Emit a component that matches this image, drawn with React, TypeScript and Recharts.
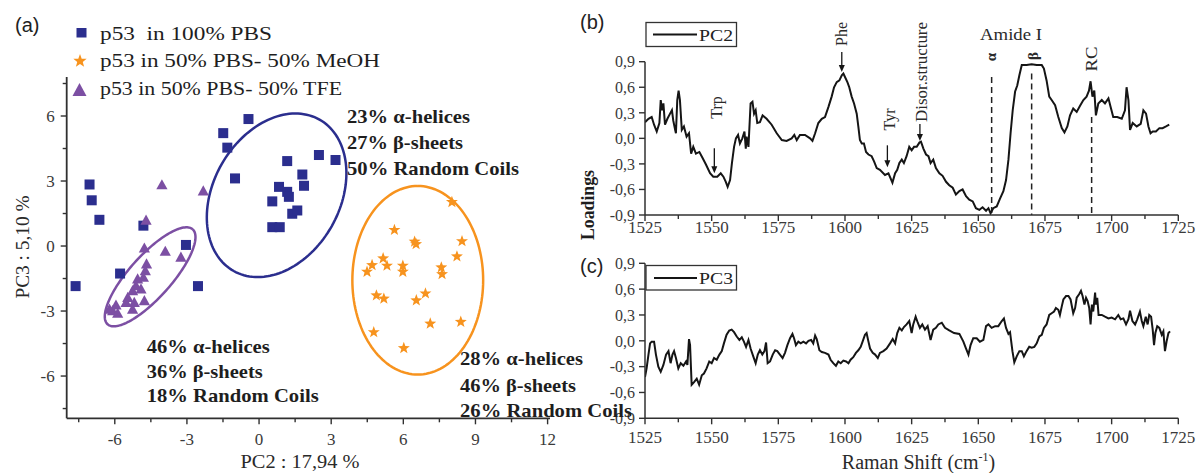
import React from 'react';
import { ScatterChart, Scatter, XAxis, YAxis, LineChart, Line, ReferenceLine, ReferenceDot } from 'recharts';

const SERIF = "'Liberation Serif', 'Times New Roman', serif";
const SANS = "'Liberation Sans', Arial, sans-serif";
const INK = '#151515';
const AXIS_C = '#303030';
const TICK_C = '#3a3a3a';
const BLUE = '#2b2e8e';
const ORANGE = '#f7931e';
const PURPLE = '#7c4fa3';

// ---------- Panel (a): PCA scores (PC2, PC3) ----------
const pbsPC2 = [-7.63, -7.05, -6.96, -6.64, -5.78, -4.81, -3.04, -2.54, -1.49, -1.32, -0.44, -1.0, 0.55, 0.83, 1.17, 1.24, 1.17, 1.8, 1.87, 1.38, 1.59, 0.55, 0.86, 2.49, 3.18];
const pbsPC3 = [-1.85, 2.84, 2.11, 1.21, -1.27, 0.94, 0.05, -1.85, 5.21, 4.54, 5.86, 3.12, 2.06, 2.73, 2.5, 2.27, 3.92, 3.3, 2.78, 1.49, 1.64, 0.87, 0.87, 4.2, 3.97];
const meohPC2 = [8.02, 5.63, 6.47, 6.53, 8.44, 8.23, 4.7, 5.16, 5.32, 4.49, 5.98, 5.98, 7.58, 7.61, 4.88, 5.19, 6.92, 6.54, 7.12, 8.39, 4.77, 6.02];
const meohPC3 = [2.03, 0.74, 0.2, 0.09, 0.22, -0.48, -0.88, -0.57, -0.91, -1.19, -0.91, -1.19, -0.99, -1.3, -2.28, -2.43, -2.19, -2.51, -3.58, -3.5, -3.98, -4.71];
const tfePC2 = [-4.04, -2.32, -4.7, -4.77, -3.9, -3.25, -4.68, -4.73, -4.81, -5.05, -5.12, -4.91, -5.26, -5.46, -4.77, -5.19, -5.53, -5.26, -5.95, -6.09, -5.88, -6.22];
const tfePC3 = [2.81, 2.53, 1.18, -0.11, -0.26, -0.53, -0.84, -1.15, -1.46, -1.53, -1.85, -2.0, -2.08, -2.39, -2.54, -2.62, -2.62, -2.93, -2.74, -3.0, -3.12, -2.93];

// confidence ellipses: centre and two conjugate semi-axes (data units)
const ellipseCentre = { pbs: [0.73, 2.34], meoh: [6.6, -1.58], tfe: [-4.53, -1.42] };
const ellipseAxisA = { pbs: [0.4, 3.74], meoh: [0, 4.35], tfe: [1.77, 2.19] };
const ellipseAxisB = { pbs: [2.875, 0.51], meoh: [2.72, 0], tfe: [0.65, -0.65] };

const legendLabels = ['p53  in 100% PBS', 'p53 in 50% PBS- 50% MeOH', 'p53 in 50% PBS- 50% TFE'];
const pbsStructure = ['23% α-helices', '27% β-sheets', '50% Random Coils'];
const tfeStructure = ['46% α-helices', '36% β-sheets', '18% Random Coils'];
const meohStructure = ['28% α-helices', '46% β-sheets', '26% Random Coils'];

const aXMajor = [-6, -3, 0, 3, 6, 9, 12];
const aXTicks = [-7.5, -6, -4.5, -3, -1.5, 0, 1.5, 3, 4.5, 6, 7.5, 9, 10.5, 12];
const aYMajor = [-6, -3, 0, 3, 6];
const aYTicks = [-7.5, -6, -4.5, -3, -1.5, 0, 1.5, 3, 4.5, 6, 7.5];

// ---------- Panels (b), (c): loadings vs Raman shift ----------
const ramanMajor = [1525, 1550, 1575, 1600, 1625, 1650, 1675, 1700, 1725];
const ramanTicks = [1525, 1537.5, 1550, 1562.5, 1575, 1587.5, 1600, 1612.5, 1625, 1637.5, 1650, 1662.5, 1675, 1687.5, 1700, 1712.5, 1725];
const loadTicks = [-0.9, -0.6, -0.3, 0, 0.3, 0.6, 0.9];

const pc2 = [
  [1525, 0.19], [1526.3, 0.23], [1527.5, 0.25], [1528.4, 0.16], [1529.4, 0.08], [1530.4, 0.18], [1530.9, 0.45], [1531.4, 0.33], [1531.9, 0.41], [1532.5, 0.16],
  [1533.4, 0.23], [1534.4, 0.29], [1535.1, 0.33], [1535.6, 0.21], [1536.3, 0.1], [1536.6, 0.06], [1537.1, 0.45], [1537.6, 0.56], [1538.1, 0.45], [1538.8, 0.1],
  [1539.6, 0.14], [1540.6, 0.02], [1541.5, 0.06], [1542.3, -0.18], [1543.1, -0.1], [1544.1, -0.18], [1545.4, -0.16], [1546.6, -0.23], [1547.9, -0.31], [1549.4, -0.41],
  [1550.6, -0.45], [1552.1, -0.45], [1553.4, -0.41], [1554.4, -0.45], [1555.3, -0.51], [1556, -0.57], [1556.9, -0.49], [1557.6, -0.29], [1558.4, -0.1], [1559.1, 0.0],
  [1559.9, 0.04], [1560.6, -0.06], [1561.5, 0.0], [1562.3, 0.08], [1562.8, -0.12], [1563.1, 0.02], [1563.8, -0.1], [1564.6, 0.41], [1565.3, 0.43], [1565.9, 0.29],
  [1566.5, 0.33], [1567.1, 0.18], [1568.1, 0.19], [1569.1, 0.27], [1570.6, 0.23], [1572.5, 0.16], [1574.4, 0.06], [1576.3, -0.02], [1578.1, -0.03], [1580, 0.0],
  [1581, 0.04], [1581.9, -0.02], [1583.1, 0.04], [1585, 0.04], [1586.9, 0.0], [1587.8, -0.03], [1588.8, 0.06], [1590, 0.18], [1591.3, 0.23], [1592.5, 0.25],
  [1593.8, 0.37], [1595, 0.49], [1595.9, 0.6], [1596.9, 0.66], [1597.9, 0.68], [1598.8, 0.74], [1599.4, 0.76], [1600, 0.72], [1600.9, 0.66], [1601.6, 0.6],
  [1602.5, 0.49], [1603.4, 0.41], [1604.4, 0.29], [1605, 0.14], [1605.6, -0.02], [1606.3, -0.06], [1607.1, -0.06], [1607.9, -0.16], [1608.8, -0.19], [1610, -0.21],
  [1610.9, -0.27], [1611.9, -0.35], [1613.1, -0.37], [1615, -0.43], [1616.3, -0.41], [1617.8, -0.52], [1618.8, -0.41], [1619.6, -0.37], [1620.4, -0.29], [1621.3, -0.25],
  [1622.1, -0.29], [1623.1, -0.21], [1624.1, -0.1], [1625, -0.14], [1625.9, -0.1], [1626.9, -0.1], [1627.9, -0.05], [1628.5, -0.04], [1629.4, -0.12], [1630.4, -0.19],
  [1631.3, -0.21], [1632.1, -0.29], [1633.1, -0.25], [1634.1, -0.35], [1635.4, -0.41], [1636.6, -0.44], [1637.9, -0.51], [1639.1, -0.55], [1640.4, -0.58], [1641.6, -0.66],
  [1642.9, -0.62], [1644.1, -0.6], [1645.4, -0.68], [1646.6, -0.72], [1647.9, -0.74], [1649.1, -0.82], [1650.4, -0.84], [1651.6, -0.81], [1652.9, -0.85], [1653.8, -0.82],
  [1654.6, -0.88], [1655.6, -0.82], [1656.9, -0.8], [1658.1, -0.71], [1659.4, -0.62], [1660.4, -0.49], [1661.3, -0.25], [1662.1, 0.06], [1662.9, 0.33], [1663.8, 0.55],
  [1664.6, 0.62], [1665.4, 0.74], [1666.3, 0.86], [1668.1, 0.86], [1670, 0.87], [1671.9, 0.86], [1673.8, 0.86], [1674.6, 0.82], [1675.6, 0.68], [1676.6, 0.49],
  [1677.5, 0.45], [1678.8, 0.39], [1680, 0.25], [1681.3, 0.12], [1682.3, 0.07], [1683.4, 0.14], [1684.4, 0.27], [1685.6, 0.35], [1686.9, 0.31], [1688.1, 0.38],
  [1689.4, 0.45], [1690.6, 0.49], [1691.5, 0.56], [1692.1, 0.67], [1692.8, 0.49], [1693.5, 0.56], [1694.1, 0.27], [1695, 0.41], [1696.3, 0.45], [1697.5, 0.41],
  [1698.8, 0.47], [1699.6, 0.37], [1700.6, 0.25], [1702.1, 0.25], [1703.8, 0.23], [1705, 0.33], [1705.6, 0.6], [1706.3, 0.45], [1706.9, 0.1], [1707.9, 0.18],
  [1709.4, 0.14], [1710.9, 0.17], [1711.9, 0.33], [1712.9, 0.29], [1713.8, 0.14], [1714.6, 0.06], [1715.4, 0.08], [1716.6, 0.08], [1717.9, 0.12], [1719.1, 0.12],
  [1720.4, 0.14], [1721.6, 0.16],
];

const pc3 = [
  [1525, -0.42], [1525.6, -0.32], [1526.3, -0.16], [1526.9, -0.03], [1527.5, -0.01], [1528.4, -0.01], [1529.1, -0.16], [1530, -0.3], [1530.9, -0.36], [1531.9, -0.28],
  [1532.9, -0.16], [1533.8, -0.12], [1534.6, -0.26], [1535.3, -0.16], [1535.9, -0.12], [1536.6, -0.2], [1537.5, -0.32], [1538.4, -0.26], [1539.4, -0.29], [1540.4, -0.24],
  [1540.9, -0.28], [1541.5, 0.02], [1541.9, -0.05], [1542.5, -0.51], [1543.4, -0.48], [1544.4, -0.44], [1545.3, -0.51], [1546.3, -0.4], [1547.1, -0.38], [1548.1, -0.32],
  [1549.1, -0.24], [1550, -0.26], [1550.9, -0.2], [1551.9, -0.22], [1552.9, -0.16], [1553.8, -0.12], [1554.6, -0.03], [1555.6, 0.07], [1556.6, 0.12], [1557.5, 0.13],
  [1558.4, 0.1], [1559.4, 0.05], [1560.4, 0.01], [1561.3, 0.04], [1562.1, -0.01], [1562.9, -0.07], [1563.8, 0.01], [1564.6, -0.09], [1565.6, -0.18], [1566.5, -0.26],
  [1567.3, -0.16], [1568.1, -0.11], [1569, -0.16], [1569.8, -0.12], [1570.4, -0.02], [1571, -0.26], [1571.9, -0.24], [1572.9, -0.16], [1573.8, -0.11], [1574.6, -0.12],
  [1575.6, -0.16], [1576.6, -0.2], [1577.5, -0.14], [1578.4, -0.05], [1579.4, 0.03], [1580.3, 0.08], [1580.9, 0.03], [1581.6, -0.05], [1582.5, -0.01], [1583.4, -0.03],
  [1584.4, -0.01], [1585.4, -0.03], [1586.3, 0.0], [1587.3, 0.01], [1588.1, -0.03], [1588.8, 0.06], [1589.4, 0.02], [1590.4, -0.11], [1591.3, -0.13], [1592.5, -0.14],
  [1593.8, -0.16], [1594.6, -0.22], [1595.6, -0.26], [1596.6, -0.29], [1597.5, -0.24], [1598.4, -0.26], [1599.4, -0.23], [1600.4, -0.24], [1601.3, -0.26], [1602.1, -0.22],
  [1603.1, -0.19], [1604.1, -0.14], [1605, -0.11], [1605.9, -0.07], [1606.6, -0.01], [1607.5, 0.07], [1608.1, 0.09], [1608.8, -0.01], [1609.4, -0.09], [1610.4, -0.14],
  [1611.3, -0.16], [1612.3, -0.2], [1613.1, -0.14], [1614.4, -0.12], [1615.6, -0.09], [1616.9, -0.03], [1617.9, 0.02], [1618.8, -0.03], [1619.6, 0.09], [1620.4, 0.15],
  [1621.3, 0.12], [1622.1, 0.16], [1623.1, 0.19], [1624.1, 0.23], [1625, 0.09], [1625.6, 0.19], [1626.5, 0.28], [1627.3, 0.21], [1628.1, 0.15], [1629, 0.19],
  [1630, 0.13], [1631, 0.17], [1632.1, 0.01], [1633.1, 0.13], [1634.1, 0.15], [1635, 0.19], [1636.3, 0.21], [1637.5, 0.15], [1639.1, 0.12], [1640.9, 0.09],
  [1642.9, 0.08], [1644.4, -0.01], [1645.4, -0.09], [1646.3, -0.16], [1647.1, -0.05], [1648.1, 0.03], [1649.4, 0.03], [1650.6, -0.01], [1651.9, 0.01], [1652.9, 0.17],
  [1653.8, 0.19], [1655, 0.15], [1656.3, 0.17], [1657.5, 0.17], [1658.8, 0.23], [1659.6, 0.26], [1660.4, 0.15], [1661.3, 0.08], [1661.9, 0.1], [1662.8, -0.12],
  [1663.5, -0.25], [1664.4, -0.18], [1665.4, -0.12], [1666.3, -0.12], [1667.1, -0.18], [1668.1, -0.12], [1669.1, -0.07], [1670, -0.08], [1671, -0.07], [1671.9, -0.03],
  [1672.9, 0.05], [1673.8, 0.07], [1674.6, 0.15], [1675.6, 0.19], [1676.6, 0.3], [1677.5, 0.32], [1678.4, 0.34], [1679.1, 0.38], [1680, 0.36], [1680.6, 0.3],
  [1681.3, 0.4], [1681.9, 0.48], [1682.9, 0.52], [1683.8, 0.52], [1684.6, 0.48], [1685.6, 0.32], [1686.3, 0.38], [1686.9, 0.5], [1687.8, 0.54], [1688.5, 0.58],
  [1689.1, 0.52], [1689.8, 0.42], [1690.4, 0.5], [1691, 0.46], [1691.6, 0.38], [1692.1, 0.19], [1692.6, 0.42], [1693.1, 0.34], [1693.8, 0.56], [1694.1, 0.42],
  [1694.6, 0.5], [1695.1, 0.3], [1696.3, 0.3], [1697.5, 0.28], [1698.8, 0.26], [1700, 0.27], [1701.3, 0.25], [1702.5, 0.3], [1703.4, 0.25], [1704.4, 0.26],
  [1705.4, 0.19], [1706.3, 0.25], [1706.9, 0.35], [1707.8, 0.23], [1708.8, 0.19], [1709.6, 0.25], [1710.6, 0.34], [1711.3, 0.23], [1711.9, 0.17], [1712.8, 0.28],
  [1713.5, 0.19], [1714.1, 0.3], [1714.8, 0.28], [1715.4, 0.13], [1715.9, -0.05], [1716.4, 0.09], [1717.1, 0.17], [1717.9, 0.15], [1718.8, 0.07], [1719.4, 0.11],
  [1720, -0.12], [1720.6, -0.01], [1721.3, 0.09], [1721.9, 0.11],
];

// band markers (dashed) in Amide I region: shift and upper end of the dashed line
const bandShift = [1655, 1670, 1692.5];
const bandTop = [0.72, 0.76, 0.25];
// arrows: Trp, Phe, Tyr, Disor. structure (tip positions)
const arrowShift = [1551, 1598.8, 1615.9, 1628.1];
const arrowTip = [-0.41, 0.78, -0.34, -0.03];

// ---------- helpers ----------
const toPoints = (xs: number[], ys: number[]) => xs.map((x, i) => ({ x, y: ys[i] }));
const toXY = (pairs: number[][]) => pairs.map(([x, y]) => ({ x, y }));

const ellipseOutline = (key: 'pbs' | 'meoh' | 'tfe') => {
  const [cx, cy] = ellipseCentre[key];
  const [ax, ay] = ellipseAxisA[key];
  const [bx, by] = ellipseAxisB[key];
  const pts = [];
  for (let i = 0; i <= 144; i++) {
    const t = (i / 144) * Math.PI * 2;
    pts.push({ x: cx + Math.cos(t) * ax + Math.sin(t) * bx, y: cy + Math.cos(t) * ay + Math.sin(t) * by });
  }
  return pts;
};

const isIn = (arr: number[], v: number) => arr.some((m) => Math.abs(m - v) < 1e-6);

const makeXTick = (majors: number[], fmt: (v: number) => string, labelDy: number, fontSize: number) => (p: any) => {
  const v = Number(p.payload.value);
  const major = isIn(majors, v);
  return (
    <g>
      <line x1={p.x} x2={p.x} y1={p.y} y2={p.y + (major ? 6 : 4)} stroke={AXIS_C} strokeWidth={1.4} />
      {major && (
        <text x={p.x} y={p.y + labelDy} textAnchor="middle" fontFamily={SERIF} fontSize={fontSize} fill={TICK_C}>
          {fmt(v)}
        </text>
      )}
    </g>
  );
};

const makeYTick = (majors: number[], fmt: (v: number) => string, gap: number, fontSize: number) => (p: any) => {
  const v = Number(p.payload.value);
  const major = isIn(majors, v);
  return (
    <g>
      <line x1={p.x - (major ? 6 : 4)} x2={p.x} y1={p.y} y2={p.y} stroke={AXIS_C} strokeWidth={1.4} />
      {major && (
        <text x={p.x - gap} y={p.y} dy="0.36em" textAnchor="end" fontFamily={SERIF} fontSize={fontSize} fill={TICK_C}>
          {fmt(v)}
        </text>
      )}
    </g>
  );
};

const fmtA = (v: number) => String(v);
const fmtL = (v: number) => v.toFixed(1).replace('.', ',');

const SquareMark = (p: any) => <rect x={p.cx - 5} y={p.cy - 5} width={10} height={10} fill={BLUE} />;
const TriMark = (p: any) => (
  <polygon points={`${p.cx},${p.cy - 6} ${p.cx + 5.6},${p.cy + 4.2} ${p.cx - 5.6},${p.cy + 4.2}`} fill={PURPLE} />
);
const starPath = (cx: number, cy: number, R: number, r: number) => {
  const pts = [];
  for (let i = 0; i < 10; i++) {
    const rad = i % 2 === 0 ? R : r;
    const a = -Math.PI / 2 + (i * Math.PI) / 5;
    pts.push(`${(cx + rad * Math.cos(a)).toFixed(2)},${(cy + rad * Math.sin(a)).toFixed(2)}`);
  }
  return pts.join(' ');
};
const StarMark = (p: any) => <polygon points={starPath(p.cx, p.cy, 6.3, 2.6)} fill={ORANGE} />;
const NoMark = () => <g />;

const arrowLens = [25, 20, 22, 17];
const makeArrow = (len: number) => (p: any) => {
  const { cx, cy } = p;
  return (
    <g>
      <line x1={cx} x2={cx} y1={cy - len} y2={cy - 5} stroke={INK} strokeWidth={1.3} />
      <polygon points={`${cx - 3},${cy - 7} ${cx + 3},${cy - 7} ${cx},${cy}`} fill={INK} />
    </g>
  );
};

const RotText = ({ x, y, children, size = 16, len, bold = false, color = '#2a2a2a' }: any) => (
  <text
    transform={`translate(${x},${y}) rotate(-90)`}
    textAnchor="middle"
    dy="0.35em"
    fontFamily={SERIF}
    fontSize={size}
    fontWeight={bold ? 'bold' : 'normal'}
    fill={color}
    textLength={len}
    lengthAdjust={len ? 'spacingAndGlyphs' : undefined}
  >
    {children}
  </text>
);

const Txt = ({ x, y, children, size = 19, len, bold = false, anchor = 'start', color = '#1e1e1e', family = SERIF }: any) => (
  <text
    x={x}
    y={y}
    textAnchor={anchor}
    fontFamily={family}
    fontSize={size}
    fontWeight={bold ? 'bold' : 'normal'}
    fill={color}
    textLength={len}
    lengthAdjust={len ? 'spacingAndGlyphs' : undefined}
    style={{ whiteSpace: 'pre' }}
  >
    {children}
  </text>
);

const lineAxisProps = { stroke: AXIS_C, strokeWidth: 1.5 };

export default function App() {
  const pbs = toPoints(pbsPC2, pbsPC3);
  const meoh = toPoints(meohPC2, meohPC3);
  const tfe = toPoints(tfePC2, tfePC3);
  const pc2Data = toXY(pc2);
  const pc3Data = toXY(pc3);

  const ellipses: { key: 'pbs' | 'meoh' | 'tfe'; color: string }[] = [
    { key: 'pbs', color: BLUE },
    { key: 'meoh', color: ORANGE },
    { key: 'tfe', color: PURPLE },
  ];

  return (
    <div style={{ position: 'absolute', left: 0, top: 0, width: 1198, height: 473, background: '#fff', overflow: 'hidden' }}>
      {/* Panel (a) */}
      <div style={{ position: 'absolute', left: 0, top: 0 }}>
        <ScatterChart width={580} height={473} margin={{ top: 77, right: 30, bottom: 24.7, left: 26.7 }}>
          <XAxis
            type="number"
            dataKey="x"
            domain={[-8, 12.1]}
            ticks={aXTicks}
            interval={0}
            allowDataOverflow
            height={30}
            tickSize={0}
            tickMargin={0}
            tickLine={false}
            axisLine={{ stroke: AXIS_C, strokeWidth: 1.8 }}
            tick={makeXTick(aXMajor, fmtA, 27, 17)}
          />
          <YAxis
            type="number"
            dataKey="y"
            domain={[-7.95, 7.8]}
            ticks={aYTicks}
            interval={0}
            allowDataOverflow
            width={40}
            tickSize={0}
            tickMargin={0}
            tickLine={false}
            axisLine={{ stroke: AXIS_C, strokeWidth: 1.8 }}
            tick={makeYTick(aYMajor, fmtA, 12, 17)}
          />
          {ellipses.map((e) => (
            <Scatter
              key={e.key}
              data={ellipseOutline(e.key)}
              line={{ stroke: e.color, strokeWidth: 2.5 }}
              shape={NoMark}
              isAnimationActive={false}
            />
          ))}
          <Scatter data={pbs} shape={SquareMark} isAnimationActive={false} />
          <Scatter data={meoh} shape={StarMark} isAnimationActive={false} />
          <Scatter data={tfe} shape={TriMark} isAnimationActive={false} />
        </ScatterChart>
      </div>

      {/* Panel (b) */}
      <div style={{ position: 'absolute', left: 580, top: 0 }}>
        <LineChart width={618} height={250} margin={{ top: 61.7, right: 19.7, bottom: 10, left: 25 }}>
          <XAxis
            type="number"
            dataKey="x"
            domain={[1525, 1725]}
            ticks={ramanTicks}
            interval={0}
            allowDataOverflow
            height={25}
            tickSize={0}
            tickMargin={0}
            tickLine={false}
            axisLine={lineAxisProps}
            tick={makeXTick(ramanMajor, String, 18, 17)}
          />
          <YAxis
            type="number"
            domain={[-0.9, 0.9]}
            ticks={loadTicks}
            interval={0}
            allowDataOverflow
            width={40}
            tickSize={0}
            tickMargin={0}
            tickLine={false}
            axisLine={lineAxisProps}
            tick={makeYTick(loadTicks, fmtL, 10, 16)}
          />
          {bandShift.map((s, i) => (
            <ReferenceLine
              key={`band-${s}`}
              segment={[{ x: s, y: bandTop[i] }, { x: s, y: -0.9 }]}
              stroke="#222"
              strokeWidth={1.5}
              strokeDasharray="6 4"
            />
          ))}
          <Line data={pc2Data} dataKey="y" type="linear" stroke={INK} strokeWidth={2} dot={false} isAnimationActive={false} />
          {arrowShift.map((s, i) => (
            <ReferenceDot key={`arrow-${s}`} x={s} y={arrowTip[i]} r={0} ifOverflow="visible" shape={makeArrow(arrowLens[i])} />
          ))}
        </LineChart>
      </div>

      {/* Panel (c) */}
      <div style={{ position: 'absolute', left: 580, top: 245 }}>
        <LineChart width={618} height={228} margin={{ top: 18.3, right: 19.7, bottom: 24.7, left: 25 }}>
          <XAxis
            type="number"
            dataKey="x"
            domain={[1525, 1725]}
            ticks={ramanTicks}
            interval={0}
            allowDataOverflow
            height={30}
            tickSize={0}
            tickMargin={0}
            tickLine={false}
            axisLine={lineAxisProps}
            tick={makeXTick(ramanMajor, String, 25, 17)}
          />
          <YAxis
            type="number"
            domain={[-0.9, 0.9]}
            ticks={loadTicks}
            interval={0}
            allowDataOverflow
            width={40}
            tickSize={0}
            tickMargin={0}
            tickLine={false}
            axisLine={lineAxisProps}
            tick={makeYTick(loadTicks, fmtL, 10, 16)}
          />
          <Line data={pc3Data} dataKey="y" type="linear" stroke={INK} strokeWidth={2} dot={false} isAnimationActive={false} />
        </LineChart>
      </div>

      {/* Text layer */}
      <svg width={1198} height={473} style={{ position: 'absolute', left: 0, top: 0, pointerEvents: 'none' }}>
        <Txt x={15} y={32} size={20} family={SANS} color="#222">(a)</Txt>
        <Txt x={580} y={29} size={20} family={SANS} color="#222">(b)</Txt>
        <Txt x={580} y={273} size={20} family={SANS} color="#222">(c)</Txt>

        {/* legend (a) */}
        <rect x={76.5} y={28} width={10} height={9.5} fill={BLUE} />
        <polygon points={starPath(80, 61, 7, 2.9)} fill={ORANGE} />
        <polygon points={`79.5,83 86.5,96 72.5,96`} fill={PURPLE} />
        <Txt x={100} y={39.5} size={19} len={172}>{legendLabels[0]}</Txt>
        <Txt x={100} y={66.5} size={19} len={280}>{legendLabels[1]}</Txt>
        <Txt x={100} y={95} size={19} len={242}>{legendLabels[2]}</Txt>

        {/* structure annotations (a) */}
        <Txt x={347} y={123} bold len={123}>{pbsStructure[0]}</Txt>
        <Txt x={347} y={149} bold len={116}>{pbsStructure[1]}</Txt>
        <Txt x={347} y={175} bold len={172}>{pbsStructure[2]}</Txt>
        <Txt x={146.7} y={353} bold len={123}>{tfeStructure[0]}</Txt>
        <Txt x={146.7} y={378} bold len={116}>{tfeStructure[1]}</Txt>
        <Txt x={146.7} y={401.5} bold len={172}>{tfeStructure[2]}</Txt>
        <Txt x={460} y={365} bold len={123}>{meohStructure[0]}</Txt>
        <Txt x={460} y={391.5} bold len={116}>{meohStructure[1]}</Txt>
        <Txt x={460} y={416.5} bold len={172}>{meohStructure[2]}</Txt>

        {/* axis titles (a) */}
        <Txt x={300} y={468} size={19} anchor="middle" len={119} color="#2a2a2a">PC2 : 17,94 %</Txt>
        <RotText x={22} y={247} size={19} len={103}>PC3 : 5,10 %</RotText>

        {/* legends (b), (c) */}
        <rect x={646} y={22.5} width={90.5} height={24} fill="#fff" stroke="#333" strokeWidth={1.3} />
        <line x1={653} x2={697} y1={34.5} y2={34.5} stroke={INK} strokeWidth={2} />
        <Txt x={699} y={40.5} size={17} len={34} color="#222">PC2</Txt>
        <rect x={646} y={265.5} width={90.5} height={24.5} fill="#fff" stroke="#333" strokeWidth={1.3} />
        <line x1={654} x2={697} y1={278} y2={278} stroke={INK} strokeWidth={2} />
        <Txt x={699} y={284} size={17} len={34} color="#222">PC3</Txt>

        {/* band annotations (b) */}
        <RotText x={716.7} y={107.5} size={16}>Trp</RotText>
        <RotText x={841.7} y={34} size={16}>Phe</RotText>
        <RotText x={889} y={119.5} size={16}>Tyr</RotText>
        <RotText x={921.5} y={72} size={16} len={100}>Disor.structure</RotText>
        <Txt x={1011} y={40} size={17} anchor="middle" len={62} color="#2a2a2a">Amide I</Txt>
        <RotText x={991} y={57} size={15} bold>α</RotText>
        <RotText x={1032.3} y={56} size={15} bold>β</RotText>
        <RotText x={1091.5} y={59} size={16} len={25}>RC</RotText>

        {/* shared titles (b, c) */}
        <RotText x={588} y={205} size={18} bold len={70} color="#1e1e1e">Loadings</RotText>
        <text x={918.5} y={469} textAnchor="middle" fontFamily={SERIF} fontSize={20} fill="#2a2a2a">
          Raman Shift (cm
          <tspan dy={-8} fontSize={12}>-1</tspan>
          <tspan dy={8}>)</tspan>
        </text>
      </svg>
    </div>
  );
}
